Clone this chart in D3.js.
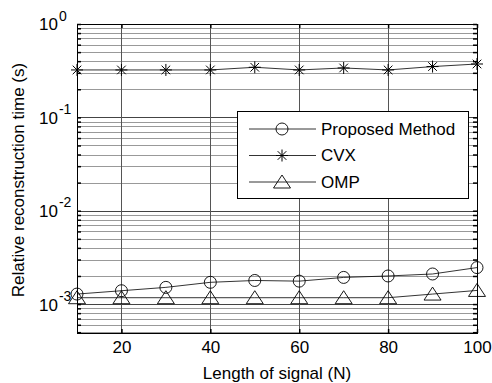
<!DOCTYPE html>
<html>
<head>
<meta charset="utf-8">
<script src="https://cdn.jsdelivr.net/npm/d3@7"></script>
<style>
  body { margin: 0; background: #fff; }
  svg { display: block; font-family: "Liberation Sans", Arial, sans-serif; }
</style>
</head>
<body>
<svg id="chart" width="492" height="383"></svg>
<script>
// signal lengths
const lengths = [10, 20, 30, 40, 50, 60, 70, 80, 90, 100];
// relative reconstruction time (s)
const proposed = [1.28e-3, 1.39e-3, 1.51e-3, 1.71e-3, 1.79e-3, 1.76e-3, 1.93e-3, 2.0e-3, 2.1e-3, 2.46e-3];
const cvx = [0.322, 0.322, 0.322, 0.322, 0.344, 0.322, 0.338, 0.322, 0.35, 0.373];
const omp = [1.17e-3, 1.17e-3, 1.17e-3, 1.17e-3, 1.17e-3, 1.17e-3, 1.17e-3, 1.17e-3, 1.28e-3, 1.4e-3];
const xTicks = [20, 40, 60, 80, 100];
const yDecades = [1e-3, 1e-2, 1e-1, 1];
const seriesNames = ["Proposed Method", "CVX", "OMP"];

const margin = { top: 24, right: 15, bottom: 50, left: 77 };
const W = 492, H = 383;
const width = W - margin.left - margin.right,
  height = H - margin.top - margin.bottom;

const svg = d3.select("#chart");
const g = svg.append("g").attr("transform", "translate(" + margin.left + "," + margin.top + ")");

const x = d3.scaleLinear().domain([10, 100]).range([0, width]);
const y = d3.scaleLog().domain([4.9e-4, 1]).range([height, 0]);

// minor values for horizontal grid / ticks
const minor = [];
[1e-4, 1e-3, 1e-2, 1e-1].forEach((d) => {
  for (let k = 1; k <= 9; k++) {
    const v = k * d;
    if (v >= y.domain()[0] && v <= 1) minor.push(v);
  }
});
minor.push(1);

// horizontal grid
g.append("g")
  .attr("class", "grid")
  .call(d3.axisLeft(y).tickValues(minor).tickSize(-width).tickFormat(""))
  .call((s) => s.select(".domain").remove())
  .selectAll("line")
  .attr("stroke", (d) => (yDecades.includes(d) ? "#444" : "#999"))
  .attr("stroke-width", 1)
  .attr("shape-rendering", "crispEdges");

// vertical grid
g.append("g")
  .attr("class", "grid")
  .attr("transform", "translate(0," + height + ")")
  .call(d3.axisBottom(x).tickValues([20, 40, 60, 80]).tickSize(-height).tickFormat(""))
  .call((s) => s.select(".domain").remove())
  .selectAll("line")
  .attr("stroke", "#555")
  .attr("shape-rendering", "crispEdges");

// box
g.append("rect")
  .attr("width", width)
  .attr("height", height)
  .attr("fill", "none")
  .attr("stroke", "#000")
  .attr("shape-rendering", "crispEdges");

// inward ticks on all four sides
const tk = 4;
g.append("g").call(d3.axisLeft(y).tickValues(minor).tickSize(-tk).tickFormat(""))
  .call((s) => s.select(".domain").remove());
g.append("g").attr("transform", "translate(" + width + ",0)")
  .call(d3.axisRight(y).tickValues(minor).tickSize(-tk).tickFormat(""))
  .call((s) => s.select(".domain").remove());
g.append("g").attr("transform", "translate(0," + height + ")")
  .call(d3.axisBottom(x).tickValues(xTicks).tickSize(-tk).tickFormat(""))
  .call((s) => s.select(".domain").remove());
g.append("g")
  .call(d3.axisTop(x).tickValues(xTicks).tickSize(-tk).tickFormat(""))
  .call((s) => s.select(".domain").remove());
g.selectAll(".tick line").filter(function () { return !this.closest(".grid"); })
  .attr("stroke", "#000").attr("stroke-width", 1.5);

// x tick labels
g.append("g")
  .attr("transform", "translate(0," + height + ")")
  .call(d3.axisBottom(x).tickValues(xTicks).tickSize(0).tickPadding(8).tickFormat(d3.format("d")))
  .call((s) => s.select(".domain").remove())
  .selectAll("text")
  .attr("font-size", 17)
  .attr("font-family", "Liberation Sans, Arial, sans-serif")
  .attr("fill", "#000");

// y tick labels 10^n
const yl = g.append("g")
  .call(d3.axisLeft(y).tickValues(yDecades).tickSize(0).tickFormat(() => "10"))
  .call((s) => s.select(".domain").remove());
yl.selectAll("text")
  .attr("font-size", 17)
  .attr("font-family", "Liberation Sans, Arial, sans-serif")
  .attr("fill", "#000")
  .attr("text-anchor", "start")
  .attr("x", -38)
  .attr("dy", "0.35em")
  .append("tspan")
  .attr("font-size", 14)
  .attr("dy", "-0.7em")
  .attr("dx", 1)
  .text((d) => Math.round(Math.log10(d)));

// lines
const line = d3.line().x((d) => x(d[0])).y((d) => y(d[1]));
const series = [proposed, cvx, omp].map((vals) => lengths.map((l, i) => [l, vals[i]]));

series.forEach((s) => {
  g.append("path")
    .datum(s)
    .attr("d", line)
    .attr("fill", "none")
    .attr("stroke", "#000")
    .attr("stroke-width", 0.8);
});

// marker drawing
function drawMarker(sel, type) {
  if (type === 0) {
    sel.append("circle").attr("r", 6).attr("fill", "none").attr("stroke", "#000").attr("stroke-width", 0.9);
  } else if (type === 1) {
    sel.append("path")
      .attr("d", "M-6,0H6M0,-6V6M-4.3,-4.3L4.3,4.3M-4.3,4.3L4.3,-4.3")
      .attr("stroke", "#000").attr("stroke-width", 1).attr("fill", "none");
  } else {
    sel.append("path")
      .attr("d", "M0,-7L8.5,6H-8.5Z")
      .attr("fill", "none").attr("stroke", "#000").attr("stroke-width", 0.9);
  }
}

series.forEach((s, k) => {
  g.selectAll(".m" + k)
    .data(s)
    .enter()
    .append("g")
    .attr("transform", (d) => "translate(" + x(d[0]) + "," + y(d[1]) + ")")
    .each(function () { drawMarker(d3.select(this), k); });
});

// legend
const lg = svg.append("g").attr("transform", "translate(237,111)");
lg.append("rect")
  .attr("width", 231)
  .attr("height", 87)
  .attr("fill", "#fff")
  .attr("stroke", "#000")
  .attr("shape-rendering", "crispEdges");
seriesNames.forEach((name, k) => {
  const row = lg.append("g").attr("transform", "translate(0," + (18 + k * 26.5) + ")");
  row.append("line").attr("x1", 12).attr("x2", 79).attr("stroke", "#000").attr("stroke-width", 0.8);
  drawMarker(row.append("g").attr("transform", "translate(45,0)"), k);
  row.append("text")
    .attr("x", 84)
    .attr("dy", "0.35em")
    .attr("font-size", 17)
    .text(name);
});

// axis titles
svg.append("text")
  .attr("x", margin.left + width / 2)
  .attr("y", 379)
  .attr("text-anchor", "middle")
  .attr("font-size", 17)
  .text("Length of signal (N)");

svg.append("text")
  .attr("transform", "translate(24," + 180 + ") rotate(-90)")
  .attr("text-anchor", "middle")
  .attr("font-size", 17)
  .text("Relative reconstruction time (s)");
</script>
</body>
</html>
